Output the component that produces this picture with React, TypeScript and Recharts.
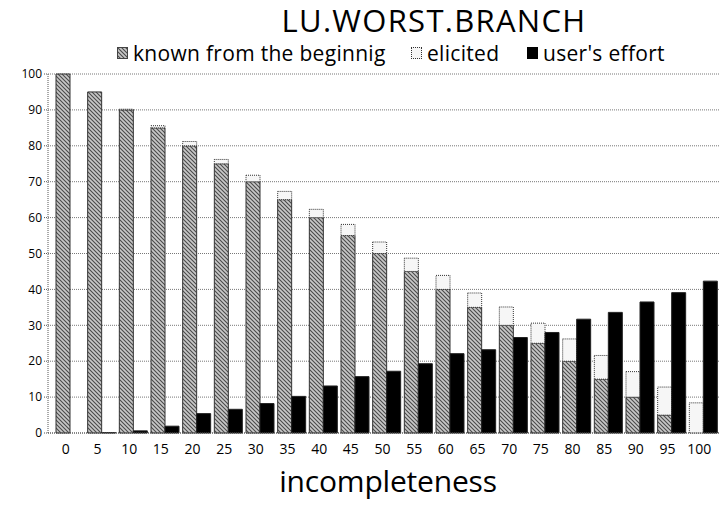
import { BarChart, Bar, XAxis, YAxis, CartesianGrid } from 'recharts';

const categories = ['0', '5', '10', '15', '20', '25', '30', '35', '40', '45', '50',
    '55', '60', '65', '70', '75', '80', '85', '90', '95', '100'];
const known = [100, 95, 90, 85, 80, 75, 70, 65, 60, 55, 50, 45, 40, 35, 30, 25, 20, 15, 10, 5, 0];
const elicited = [0, 0, 0.2, 0.6, 1.2, 1.2, 1.8, 2.3, 2.3, 3.1, 3.2, 3.7, 3.9, 4.0, 5.1, 5.6, 6.2, 6.6, 7.1, 7.8, 8.4];
const effort = [0, 0.1, 0.6, 1.9, 5.4, 6.6, 8.2, 10.2, 13.1, 15.7, 17.2, 19.3, 22.1, 23.2, 26.6, 28.0, 31.7, 33.6, 36.5, 39.1, 42.3];
const yTicks = [0, 10, 20, 30, 40, 50, 60, 70, 80, 90, 100];

const data = categories.map((name, i) => ({
    name, known: known[i], elicited: elicited[i], effort: effort[i],
}));

const FONT = '"Open Sans", "Noto Sans", sans-serif';
const DOTS = '1 1';

function Swatch({ kind }: { kind: 'known' | 'elicited' | 'effort' }) {
    const base: React.CSSProperties = { width: 11, height: 12, display: 'inline-block', boxSizing: 'border-box', marginRight: 5 };
    if (kind === 'known') return <svg width={11} height={12} style={{ marginRight: 5 }}>
        <rect x={0.5} y={0.5} width={10} height={11} fill="url(#hatch)" stroke="#444" />
    </svg>;
    if (kind === 'elicited') return <span style={{ ...base, background: '#f6f6f6', border: '1px dotted #333' }} />;
    return <span style={{ ...base, background: '#000' }} />;
}

const legendItem = (left: number): React.CSSProperties => ({
    position: 'absolute', top: 40, left, display: 'flex', alignItems: 'center',
    fontSize: 21, lineHeight: '26px', letterSpacing: 0.3, color: '#000', whiteSpace: 'nowrap',
});

export default function App() {
    return (
        <div style={{ position: 'absolute', left: 0, top: 0, width: 724, height: 505, background: '#fff', fontFamily: FONT }}>
            <div style={{ position: 'absolute', top: 0, left: 0, width: 724, textAlign: 'center', paddingLeft: 144, boxSizing: 'border-box',
                fontSize: 31, lineHeight: '40px', color: '#000', letterSpacing: 1.3 }}>
                LU.WORST.BRANCH
            </div>
            <div style={legendItem(117)}><Swatch kind="known" />known from the beginnig</div>
            <div style={legendItem(411)}><Swatch kind="elicited" />elicited</div>
            <div style={legendItem(527)}><Swatch kind="effort" />user's effort</div>
            <BarChart width={724} height={505} data={data} barGap={0} barSize={14}
                margin={{ top: 74, right: 4, left: 8, bottom: 42 }}>
                <defs>
                    <pattern id="hatch" patternUnits="userSpaceOnUse" width={4} height={4}>
                        <rect width={4} height={4} fill="#c8c8c8" />
                        <path d="M-1,-1 L5,5 M-1,3 L1,5 M3,-1 L5,1" stroke="#4a4a4a" strokeWidth={1.1} />
                    </pattern>
                </defs>
                <CartesianGrid vertical={false} stroke="#777" strokeDasharray={DOTS} />
                <XAxis dataKey="name" height={30} padding={{ left: 6, right: 1 }} tickLine={false}
                    axisLine={{ stroke: '#555', strokeDasharray: DOTS }}
                    tick={{ fontSize: 14, fill: '#000', fontFamily: FONT, dx: -4 }} interval={0} tickMargin={5} />
                <YAxis width={40} domain={[0, 100]} ticks={yTicks} interval={0}
                    axisLine={{ stroke: '#555', strokeDasharray: DOTS }}
                    tickLine={{ stroke: '#555', strokeDasharray: DOTS }} tickSize={4}
                    tick={{ fontSize: 12, fill: '#000', fontFamily: FONT }} />
                <Bar dataKey="known" stackId="a" fill="url(#hatch)" stroke="#333" strokeWidth={1} isAnimationActive={false} />
                <Bar dataKey="elicited" stackId="a" fill="#f6f6f6" stroke="#333" strokeWidth={1} strokeDasharray={DOTS} isAnimationActive={false} />
                <Bar dataKey="effort" fill="#000" stroke="#222" strokeWidth={1} isAnimationActive={false} />
            </BarChart>
            <div style={{ position: 'absolute', top: 461, left: 0, width: 724, textAlign: 'center', paddingLeft: 52, boxSizing: 'border-box',
                fontSize: 30, lineHeight: '40px', color: '#000', letterSpacing: -0.2 }}>
                incompleteness
            </div>
        </div>
    );
}
